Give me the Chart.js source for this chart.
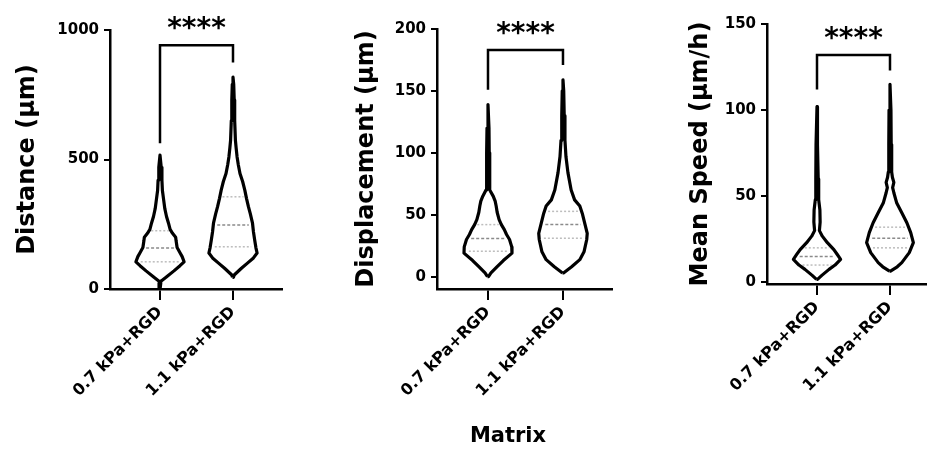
<!DOCTYPE html>
<html>
<head>
<meta charset="utf-8">
<script src="https://cdn.jsdelivr.net/npm/chart.js@4.4.1/dist/chart.umd.min.js"></script>
<style>
  body { margin: 0; background: #fff; width: 927px; height: 450px; overflow: hidden; position: relative; }
  canvas { position: absolute; top: 0; }
  #xTitle { position: absolute; left: 408px; width: 200px; top: 425px; text-align: center;
            font: bold 21px "DejaVu Sans"; line-height: 21px; color: #000; }
</style>
</head>
<body>
<canvas id="c1" width="283" height="450" style="left:0px"></canvas>
<canvas id="c2" width="273" height="450" style="left:340px"></canvas>
<canvas id="c3" width="252" height="450" style="left:675px"></canvas>
<div id="xTitle">Matrix</div>
<script>
const groups = ['0.7 kPa+RGD', '1.1 kPa+RGD'];

// Distance (µm)
const distTicks = [0, 500, 1000];
const distLevels07 = [5, 30, 45, 70, 90, 105, 125, 140, 160, 185, 200, 215, 230, 255, 280, 310, 345, 380, 420, 470, 517];
const distWidth07 = [0.01, 0.04, 0.25, 0.58, 0.83, 1, 0.92, 0.83, 0.71, 0.67, 0.65, 0.52, 0.42, 0.35, 0.27, 0.2, 0.15, 0.1, 0.08, 0.05, 0];
const distLevels11 = [45, 54, 80, 100, 120, 139, 160, 189, 220, 254, 290, 318, 350, 382, 415, 446, 480, 510, 545, 575, 650, 730, 790, 818];
const distWidth11 = [0.02, 0.05, 0.35, 0.6, 0.85, 1, 0.95, 0.9, 0.85, 0.81, 0.72, 0.64, 0.56, 0.49, 0.4, 0.29, 0.22, 0.17, 0.13, 0.1, 0.07, 0.05, 0.03, 0];
const distQuart07 = [105, 158, 225];
const distQuart11 = [163, 247, 356];
const distBracket = [563, 941, 875];   // left leg end, top, right leg end
const distStars = 1018;

// Displacement (µm)
const dispTicks = [0, 50, 100, 150, 200];
const dispLevels07 = [0, 3, 8, 13, 19, 24, 30, 34, 38, 42, 46, 52, 57, 61, 65, 70, 80, 100, 120, 139];
const dispWidth07 = [0.02, 0.12, 0.37, 0.62, 0.97, 0.96, 0.87, 0.75, 0.66, 0.54, 0.45, 0.37, 0.33, 0.29, 0.21, 0.08, 0.06, 0.05, 0.04, 0];
const dispLevels11 = [3, 8, 13.7, 20, 30, 35, 43, 51, 57, 62, 70, 84, 97, 110, 130, 150, 159];
const dispWidth11 = [0.02, 0.35, 0.68, 0.85, 0.96, 0.98, 0.88, 0.78, 0.68, 0.47, 0.33, 0.2, 0.12, 0.08, 0.05, 0.03, 0];
const dispQuart07 = [20.5, 30.7, 42];
const dispQuart11 = [31, 42, 52.7];
const dispBracket = [151, 183, 171];
const dispStars = 199;

// Mean Speed (µm/h)
const speedTicks = [0, 50, 100, 150];
const speedLevels07 = [1.7, 4, 7.5, 10, 13.3, 16, 19, 23, 26.8, 30, 35, 42, 48, 60, 80, 102];
const speedWidth07 = [0.02, 0.2, 0.5, 0.75, 0.98, 0.85, 0.7, 0.43, 0.22, 0.1, 0.13, 0.12, 0.07, 0.05, 0.04, 0];
const speedLevels11 = [6.5, 9, 11.4, 17.2, 23, 28.8, 34.6, 40.4, 46, 52, 55, 58, 61, 64, 80, 100, 115];
const speedWidth11 = [0.02, 0.3, 0.49, 0.8, 0.97, 0.86, 0.7, 0.49, 0.28, 0.16, 0.11, 0.16, 0.1, 0.07, 0.05, 0.04, 0];
const speedQuart07 = [10, 15, 20];
const speedQuart11 = [20, 25.5, 32];
const speedBracket = [112, 132, 123];
const speedStars = 143.6;

const FONT = '"DejaVu Sans", sans-serif';
const HALF = 0.33; // half width of a violin in category units

function violinPoints(cx, levels, widths) {
    const left = levels.map((v, i) => ({ x: cx - widths[i] * HALF, y: v }));
    const right = levels.map((v, i) => ({ x: cx + widths[i] * HALF, y: v })).reverse();
    return left.concat(right, [left[0]]);
}

function widthAt(levels, widths, v) {
    for (let i = 1; i < levels.length; i++) {
        if (v <= levels[i]) {
            const t = (v - levels[i - 1]) / (levels[i] - levels[i - 1]);
            return widths[i - 1] + t * (widths[i] - widths[i - 1]);
        }
    }
    return 0;
}

function quartileSets(cx, levels, widths, quart) {
    return quart.map((q, i) => {
        const w = widthAt(levels, widths, q) * HALF * 0.8;
        return {
            data: [{ x: cx - w, y: q }, { x: cx + w, y: q }],
            showLine: true,
            borderColor: i === 1 ? '#8a8a8a' : '#bdbdbd',
            borderWidth: 1.5,
            borderDash: i === 1 ? [3, 2] : [2, 2],
            pointRadius: 0
        };
    });
}

const starsPlugin = {
    id: 'stars',
    afterDatasetsDraw(chart, args, opts) {
        const { ctx, scales: { x, y } } = chart;
        ctx.save();
        ctx.font = 'bold 28px ' + FONT;
        ctx.textAlign = 'center';
        ctx.textBaseline = 'alphabetic';
        ctx.fillStyle = '#000';
        ctx.fillText('****', x.getPixelForValue(1.5), y.getPixelForValue(opts.value) + 12);
        ctx.restore();
    }
};

function makePanel(id, p) {
    const datasets = [
        { data: violinPoints(1, p.levels07, p.width07), showLine: true, borderColor: '#000', borderWidth: 3.2, borderJoinStyle: 'round', pointRadius: 0, clip: false },
        { data: violinPoints(2, p.levels11, p.width11), showLine: true, borderColor: '#000', borderWidth: 3.2, borderJoinStyle: 'round', pointRadius: 0, clip: false },
        ...quartileSets(1, p.levels07, p.width07, p.quart07),
        ...quartileSets(2, p.levels11, p.width11, p.quart11),
        {
            data: [{ x: 1, y: p.bracket[0] }, { x: 1, y: p.bracket[1] }, { x: 2, y: p.bracket[1] }, { x: 2, y: p.bracket[2] }],
            showLine: true, borderColor: '#000', borderWidth: 2.5, pointRadius: 0, clip: false
        }
    ];

    new Chart(document.getElementById(id), {
        type: 'scatter',
        data: { datasets },
        options: {
            responsive: false,
            animation: false,
            layout: { padding: { top: p.top, left: 0, right: 0, bottom: 0 } },
            plugins: {
                legend: { display: false },
                tooltip: { enabled: false },
                stars: { value: p.stars }
            },
            scales: {
                x: {
                    type: 'linear',
                    min: p.xMin,
                    max: p.xMax,
                    afterBuildTicks: s => { s.ticks = [{ value: 1 }, { value: 2 }]; },
                    afterFit: s => { s.height = p.xHeight; },
                    ticks: {
                        callback: v => groups[v - 1],
                        minRotation: 45,
                        maxRotation: 45,
                        autoSkip: false,
                        padding: 3,
                        color: '#000',
                        font: { family: FONT, size: 16, weight: 'bold' }
                    },
                    grid: { drawOnChartArea: false, tickLength: 11, color: '#000', lineWidth: 2 },
                    border: { color: '#000', width: 2.5 }
                },
                y: {
                    type: 'linear',
                    min: p.yMin,
                    max: p.yMax,
                    afterBuildTicks: s => { s.ticks = p.ticks.map(v => ({ value: v })); },
                    afterFit: s => { s.width = p.yWidth; },
                    ticks: {
                        callback: v => String(v),
                        padding: 5,
                        color: '#000',
                        font: { family: FONT, size: 15, weight: 'bold' }
                    },
                    grid: { drawOnChartArea: false, tickLength: 6, color: '#000', lineWidth: 2 },
                    border: { color: '#000', width: 2.5 },
                    title: {
                        display: true,
                        text: p.title,
                        color: '#000',
                        font: { family: FONT, size: 24, weight: 'bold' },
                        padding: { top: p.titlePad, bottom: 0 }
                    }
                }
            }
        },
        plugins: [starsPlugin]
    });
}

makePanel('c1', {
    title: 'Distance (µm)', ticks: distTicks, yMin: 0, yMax: 1000,
    levels07: distLevels07, width07: distWidth07, levels11: distLevels11, width11: distWidth11,
    quart07: distQuart07, quart11: distQuart11, bracket: distBracket, stars: distStars,
    xMin: 0.315, xMax: 2.685, top: 30, xHeight: 161, yWidth: 110, titlePad: 13.6
});

makePanel('c2', {
    title: 'Displacement (µm)', ticks: dispTicks, yMin: -10, yMax: 200,
    levels07: dispLevels07, width07: dispWidth07, levels11: dispLevels11, width11: dispWidth11,
    quart07: dispQuart07, quart11: dispQuart11, bracket: dispBracket, stars: dispStars,
    xMin: 0.32, xMax: 2.667, top: 29, xHeight: 161, yWidth: 97, titlePad: 12.6
});

makePanel('c3', {
    title: 'Mean Speed (µm/h)', ticks: speedTicks, yMin: -1, yMax: 150,
    levels07: speedLevels07, width07: speedWidth07, levels11: speedLevels11, width11: speedWidth11,
    quart07: speedQuart07, quart11: speedQuart11, bracket: speedBracket, stars: speedStars,
    xMin: 0.315, xMax: 2.507, top: 24, xHeight: 166, yWidth: 92, titlePad: 11.6
});
</script>
</body>
</html>
